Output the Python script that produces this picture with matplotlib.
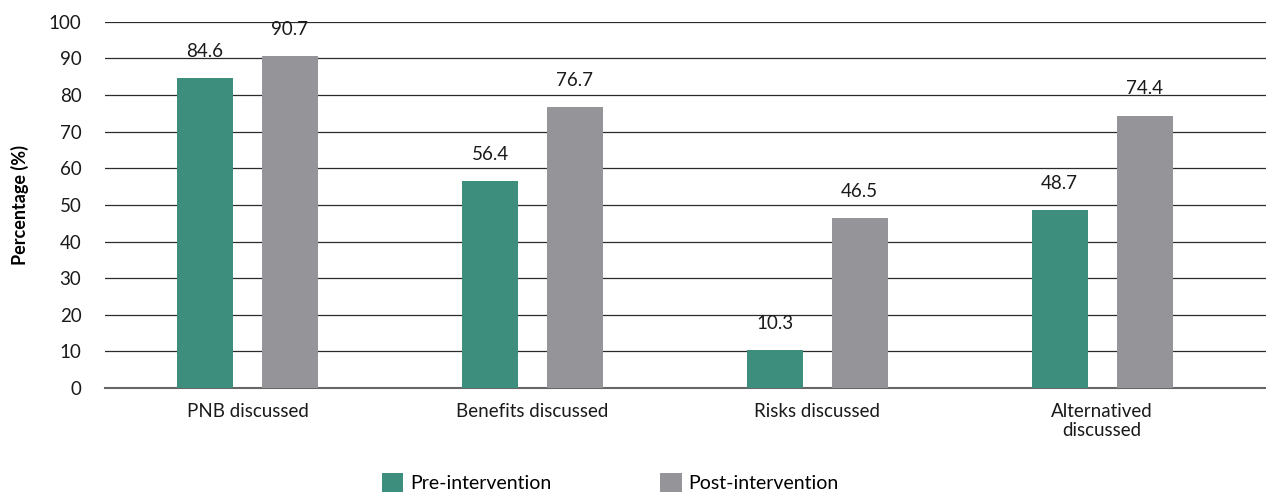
import numpy as np
import matplotlib.pyplot as plt

plt.rcParams['font.family'] = ['Lato', 'DejaVu Sans']

categories = ["PNB discussed", "Benefits discussed", "Risks discussed", "Alternatived\ndiscussed"]
pre = [84.6, 56.4, 10.3, 48.7]
post = [90.7, 76.7, 46.5, 74.4]
series_names = ["Pre-intervention", "Post-intervention"]
colors = ["#3e8e7e", "#959599"]

fig = plt.figure(figsize=(12.66, 4.95), dpi=100)
ax = fig.add_axes([0.083, 0.216, 0.917, 0.74])

x = np.arange(len(categories))
w = 0.196
off = 0.149
b1 = ax.bar(x - off, pre, w, color=colors[0], label=series_names[0], zorder=3)
b2 = ax.bar(x + off, post, w, color=colors[1], label=series_names[1], zorder=3)

for bars, vals in ((b1, pre), (b2, post)):
    for b, v in zip(bars, vals):
        ax.annotate(f"{v:.1f}", (b.get_x() + b.get_width() / 2, v),
                    xytext=(0, 13), textcoords="offset points",
                    ha="center", va="bottom", fontsize=13.5, color="#1a1a1a")

ax.set_xlim(-0.5, 3.575)
ax.set_ylim(0, 100)
ax.set_yticks(range(0, 101, 10))
ax.set_xticks(x)
ax.set_xticklabels(categories, fontsize=13.5, color="#1a1a1a", linespacing=1.15)
ax.tick_params(axis="y", length=0, pad=17, labelsize=13.5, labelcolor="#1a1a1a")
ax.tick_params(axis="x", length=0, pad=11)
ax.yaxis.grid(True, color="#2b2b2b", linewidth=0.9, zorder=0)
for s in ["top", "right", "left"]:
    ax.spines[s].set_visible(False)
ax.spines["bottom"].set_color("#666666")
ax.spines["bottom"].set_linewidth(1.5)
ax.set_ylabel("Percentage (%)", fontsize=13, fontweight="bold", labelpad=14)

fig.legend(loc="center", bbox_to_anchor=(0.482, 0.025), ncol=2, frameon=False,
           fontsize=14, handlelength=1.1, handleheight=1.1, handletextpad=0.35,
           columnspacing=5.6)

fig.savefig("out.png", dpi=100)
